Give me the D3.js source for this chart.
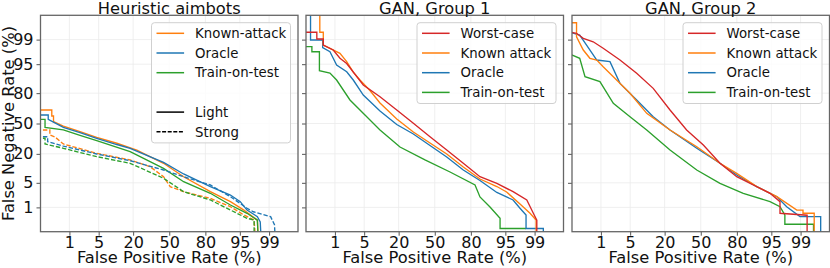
<!DOCTYPE html>
<html>
<head>
<meta charset="utf-8">
<script src="https://cdn.jsdelivr.net/npm/d3@7"></script>
<style>
  body { margin: 0; background: #fff; }
  svg { font-family: "DejaVu Sans", sans-serif; }
</style>
</head>
<body>
<div id="chart"></div>
<script>
// tick values in percent (normal deviate scale)
const xTicks = [1, 5, 20, 50, 80, 95, 99];
const yTicks = [1, 5, 20, 50, 80, 95, 99];
const panelTitles = ["Heuristic aimbots", "GAN, Group 1", "GAN, Group 2"];

// [false positive rate %, false negative rate %]
const heuristicKnownLight = [[0.1,64.6],[0.31,64.6],[0.31,58.2],[0.35,58.2],[0.35,52.0],[0.68,47.2],[1.88,41.0],[4.55,35.1],[11.1,29.2],[22.5,23.1],[44.7,13.5],[63.1,7.0],[83.1,2.93],[92.3,1.51],[95.9,0.82],[98.0,0.37],[98.1,0.05]];
const heuristicOracleLight = [[0.1,59.3],[0.24,59.3],[0.24,54.6],[0.68,45.8],[1.88,39.9],[4.55,34.1],[11.1,28.0],[18.1,24.6],[44.7,14.0],[63.1,8.08],[83.1,3.99],[92.3,2.37],[95.1,1.51],[96.5,0.82],[98.0,0.49],[98.3,0.32],[98.4,0.05]];
const heuristicTotLight = [[0.1,54.6],[0.19,54.6],[0.19,45.8],[0.68,42.9],[1.88,37.0],[4.55,31.7],[18.1,21.7],[44.7,10.7],[63.1,5.33],[83.1,2.65],[92.3,1.19],[96.5,0.64],[98.0,0.37],[98.1,0.05]];
const heuristicKnownStrong = [[0.1,42.9],[0.27,42.9],[0.27,37.5],[0.39,35.4],[0.68,28.5],[4.55,20.4],[18.1,15.6],[32.9,11.5],[44.7,7.0],[50.9,3.99],[63.1,2.93],[83.1,1.90],[92.3,1.05],[95.9,0.56],[97.6,0.37],[97.8,0.05]];
const heuristicOracleStrong = [[0.1,35.7],[0.23,35.7],[0.23,30.7],[0.68,26.6],[4.55,19.9],[18.1,15.1],[44.7,9.87],[63.1,7.0],[83.1,4.41],[92.3,2.12],[96.5,0.94],[97.5,0.72],[99.09,0.49],[99.29,0.25],[99.33,0.05]];
const heuristicTotStrong = [[0.1,34.1],[0.19,34.1],[0.19,28.5],[0.68,24.6],[4.55,17.9],[18.1,13.5],[44.7,6.44],[63.1,2.93],[83.1,1.70],[92.3,0.82],[96.5,0.43],[97.6,0.37],[97.6,0.05]];

const g1WorstCase = [[0.1,99.43],[0.30,99.43],[0.30,99.04],[0.47,99.04],[0.47,98.52],[0.90,97.92],[1.36,96.47],[2.01,95.2],[4.79,85.7],[10.1,77.1],[18.8,64.6],[30.9,50.2],[45.6,35.7],[61.0,23.1],[74.7,13.5],[85.4,7.0],[92.6,4.87],[96.6,2.93],[98.4,1.70],[98.92,0.64],[99.13,0.37],[99.13,0.05]];
const g1Known = [[0.37,99.95],[0.37,99.43],[0.47,99.43],[0.47,98.52],[0.73,98.15],[1.36,97.42],[2.01,95.67],[2.88,92.3],[4.07,88.6],[6.55,82.0],[10.1,71.5],[18.8,55.0],[30.9,40.7],[45.6,29.4],[61.0,19.9],[74.7,11.4],[85.4,6.19],[92.6,4.03],[95.3,2.88],[97.65,1.28],[98.68,0.64],[99.09,0.37],[99.09,0.05]];
const g1Oracle = [[0.19,99.95],[0.19,98.97],[0.45,98.97],[0.45,98.22],[0.73,97.67],[0.90,96.47],[1.11,94.76],[2.01,92.45],[2.88,88.61],[4.79,78.5],[10.1,63.6],[18.8,48.9],[30.9,38.6],[45.6,27.1],[61.0,17.6],[74.7,9.87],[85.4,5.7],[92.6,2.79],[96.6,1.70],[97.65,0.94],[98.33,0.56],[98.33,0.18],[99.43,0.18],[99.43,0.05]];
const g1Tot = [[0.1,98.34],[0.21,98.34],[0.21,97.67],[0.36,97.67],[0.36,92.84],[0.73,91.9],[1.11,88.6],[2.41,74.3],[5.2,59.3],[10.1,42.9],[20.9,25.7],[41.0,15.6],[63.9,8.94],[82.6,4.41],[85.4,2.08],[90.1,1.03],[93.6,0.43],[93.6,0.18],[98.33,0.18]];

const g2WorstCase = [[0.1,99.45],[0.19,99.38],[0.31,99.09],[0.61,98.83],[1.15,98.15],[2.99,96.08],[6.77,91.8],[13.4,83.5],[23.7,64.6],[37.1,42.9],[52.4,27.6],[67.3,13.5],[79.9,7.0],[88.97,4.41],[94.67,2.65],[96.76,1.51],[96.76,0.64],[99.34,0.55],[99.34,0.05]];
const g2Known = [[0.1,99.74],[0.19,99.74],[0.19,99.19],[0.31,97.92],[0.49,96.47],[0.77,96.08],[1.15,94.24],[2.08,90.3],[4.96,79.9],[10.4,61.1],[23.7,42.9],[46.3,26.0],[67.3,13.5],[79.9,8.36],[90.4,3.99],[96.2,2.12],[98.74,0.82],[99.14,0.82],[99.14,0.64],[99.59,0.64],[99.59,0.05]];
const g2Oracle = [[0.1,99.45],[0.24,99.29],[0.39,98.52],[0.77,96.08],[1.72,95.67],[2.99,86.7],[6.77,74.3],[13.4,57.5],[23.7,42.9],[46.3,24.6],[67.3,13.5],[79.9,7.67],[90.4,3.99],[96.2,2.12],[97.74,1.05],[98.96,0.49],[99.74,0.49],[99.74,0.05]];
const g2Tot = [[0.1,97.42],[0.24,96.47],[0.35,90.3],[0.94,87.7],[2.08,71.2],[4.96,57.5],[10.4,42.9],[23.7,23.1],[46.3,9.87],[67.3,4.87],[83.9,2.65],[94.67,1.51],[96.76,1.05],[97.5,0.56],[97.5,0.26],[99.57,0.26],[99.57,0.05]];

const C = { blue: "#1f77b4", orange: "#ff7f0e", green: "#2ca02c", red: "#d62728" };

const panels = [
    {
        title: panelTitles[0],
        series: [
            { data: heuristicKnownLight, color: C.orange },
            { data: heuristicOracleLight, color: C.blue },
            { data: heuristicTotLight, color: C.green },
            { data: heuristicKnownStrong, color: C.orange, dash: true },
            { data: heuristicOracleStrong, color: C.blue, dash: true },
            { data: heuristicTotStrong, color: C.green, dash: true }
        ],
        legend: [
            { label: "Known-attack", color: C.orange },
            { label: "Oracle", color: C.blue },
            { label: "Train-on-test", color: C.green },
            null,
            { label: "Light", color: "#000" },
            { label: "Strong", color: "#000", dash: true }
        ]
    },
    {
        title: panelTitles[1],
        series: [
            { data: g1Tot, color: C.green },
            { data: g1Oracle, color: C.blue },
            { data: g1Known, color: C.orange },
            { data: g1WorstCase, color: C.red }
        ],
        legend: [
            { label: "Worst-case", color: C.red },
            { label: "Known attack", color: C.orange },
            { label: "Oracle", color: C.blue },
            { label: "Train-on-test", color: C.green }
        ]
    },
    {
        title: panelTitles[2],
        series: [
            { data: g2Tot, color: C.green },
            { data: g2Oracle, color: C.blue },
            { data: g2Known, color: C.orange },
            { data: g2WorstCase, color: C.red }
        ],
        legend: [
            { label: "Worst-case", color: C.red },
            { label: "Known attack", color: C.orange },
            { label: "Oracle", color: C.blue },
            { label: "Train-on-test", color: C.green }
        ]
    }
];

// inverse normal CDF (Acklam)
function probit(p) {
    const a = [-39.69683028665376, 220.9460984245205, -275.9285104469687, 138.3577518672690, -30.66479806614716, 2.506628277459239];
    const b = [-54.47609879822406, 161.5858368580409, -155.6989798598866, 66.80131188771972, -13.28068155288572];
    const c = [-0.007784894002430293, -0.3223964580411365, -2.400758277161838, -2.549671348060573, 4.374664141464968, 2.938163982698783];
    const d = [0.007784695709041462, 0.3224671290700398, 2.445134137142996, 3.754408661907416];
    const lo = 0.02425;
    let q, r;
    if (p < lo) {
        q = Math.sqrt(-2 * Math.log(p));
        return (((((c[0]*q+c[1])*q+c[2])*q+c[3])*q+c[4])*q+c[5]) / ((((d[0]*q+d[1])*q+d[2])*q+d[3])*q+1);
    }
    if (p <= 1 - lo) {
        q = p - 0.5; r = q * q;
        return (((((a[0]*r+a[1])*r+a[2])*r+a[3])*r+a[4])*r+a[5])*q / (((((b[0]*r+b[1])*r+b[2])*r+b[3])*r+b[4])*r+1);
    }
    q = Math.sqrt(-2 * Math.log(1 - p));
    return -(((((c[0]*q+c[1])*q+c[2])*q+c[3])*q+c[4])*q+c[5]) / ((((d[0]*q+d[1])*q+d[2])*q+d[3])*q+1);
}
const dev = v => probit(v / 100);

const W = 830, H = 268;
const lefts = [40.5, 306, 572];
const plotTop = 15.3, pw = 257.5, ph = 216.4;

const svg = d3.select("#chart").append("svg").attr("width", W).attr("height", H);

panels.forEach((p, pi) => {
    const g = svg.append("g").attr("transform", `translate(${lefts[pi]},${plotTop})`);
    const x = d3.scaleLinear().domain([-3, 3]).range([0, pw]);
    const y = d3.scaleLinear().domain([-3, 3]).range([ph, 0]);

    // grid
    g.append("g").selectAll("line").data(xTicks).join("line")
        .attr("x1", d => x(dev(d))).attr("x2", d => x(dev(d)))
        .attr("y1", 0).attr("y2", ph)
        .attr("stroke", "#ebebeb").attr("stroke-width", 0.8);
    g.append("g").selectAll("line").data(yTicks).join("line")
        .attr("y1", d => y(dev(d))).attr("y2", d => y(dev(d)))
        .attr("x1", 0).attr("x2", pw)
        .attr("stroke", "#ebebeb").attr("stroke-width", 0.8);

    const clipId = "clip" + pi;
    g.append("clipPath").attr("id", clipId).append("rect").attr("width", pw).attr("height", ph);

    const line = d3.line().x(d => x(dev(d[0]))).y(d => y(dev(d[1])));
    const lines = g.append("g").attr("clip-path", `url(#${clipId})`);
    p.series.forEach(s => {
        lines.append("path")
            .attr("d", line(s.data))
            .attr("fill", "none")
            .attr("stroke", s.color)
            .attr("stroke-width", 1.35)
            .attr("stroke-dasharray", s.dash ? "4.4,1.9" : null);
    });

    // axes
    const xAxis = g.append("g").attr("transform", `translate(0,${ph})`)
        .call(d3.axisBottom(x).tickValues(xTicks.map(dev)).tickFormat((d, i) => xTicks[i]).tickSize(4).tickPadding(1.3));
    const yAxis = g.append("g")
        .call(d3.axisLeft(y).tickValues(yTicks.map(dev)).tickFormat((d, i) => pi === 0 ? yTicks[i] : "").tickSize(4).tickPadding(3));
    [xAxis, yAxis].forEach(a => {
        a.select(".domain").remove();
        a.selectAll(".tick line").attr("stroke", "#555").attr("stroke-width", 1);
        a.selectAll(".tick text").attr("font-size", 16).attr("fill", "#111").attr("font-family", "DejaVu Sans");
    });

    // frame
    g.append("rect").attr("width", pw).attr("height", ph)
        .attr("fill", "none").attr("stroke", "#666").attr("stroke-width", 1.3);

    g.append("text")
        .attr("x", pw / 2).attr("y", 13.5 - plotTop)
        .attr("text-anchor", "middle")
        .attr("font-size", 16.3).attr("fill", "#111")
        .text(p.title);

    g.append("text")
        .attr("x", pw / 2).attr("y", 263 - plotTop)
        .attr("text-anchor", "middle")
        .attr("font-size", 16.3).attr("fill", "#111")
        .text("False Positive Rate (%)");

    // legend
    const rowH = 19.7;
    const lgW = 139, lgRight = pw - 7.5;
    const lgX = lgRight - lgW, lgY = 22.7 - plotTop;
    const lg = g.append("g").attr("transform", `translate(${lgX},${lgY})`);
    lg.append("rect")
        .attr("width", lgW).attr("height", 10.6 * 2 + rowH * (p.legend.length - 1) + 0.5)
        .attr("rx", 3)
        .attr("fill", "#fff").attr("fill-opacity", 0.8)
        .attr("stroke", "#d0d0d0").attr("stroke-width", 1);
    p.legend.forEach((e, i) => {
        if (!e) return;
        const cy = 10.6 + i * rowH;
        lg.append("line")
            .attr("x1", 5).attr("x2", 32.6).attr("y1", cy).attr("y2", cy)
            .attr("stroke", e.color).attr("stroke-width", 1.5)
            .attr("stroke-dasharray", e.dash ? "4,1.6" : null);
        lg.append("text")
            .attr("x", 43.6).attr("y", cy).attr("dy", "0.36em")
            .attr("font-size", 13.3).attr("fill", "#111")
            .text(e.label);
    });
});

svg.append("text")
    .attr("transform", `translate(13.5,${plotTop + ph / 2}) rotate(-90)`)
    .attr("text-anchor", "middle")
    .attr("font-size", 16.3).attr("fill", "#111")
    .text("False Negative Rate (%)");
</script>
</body>
</html>
